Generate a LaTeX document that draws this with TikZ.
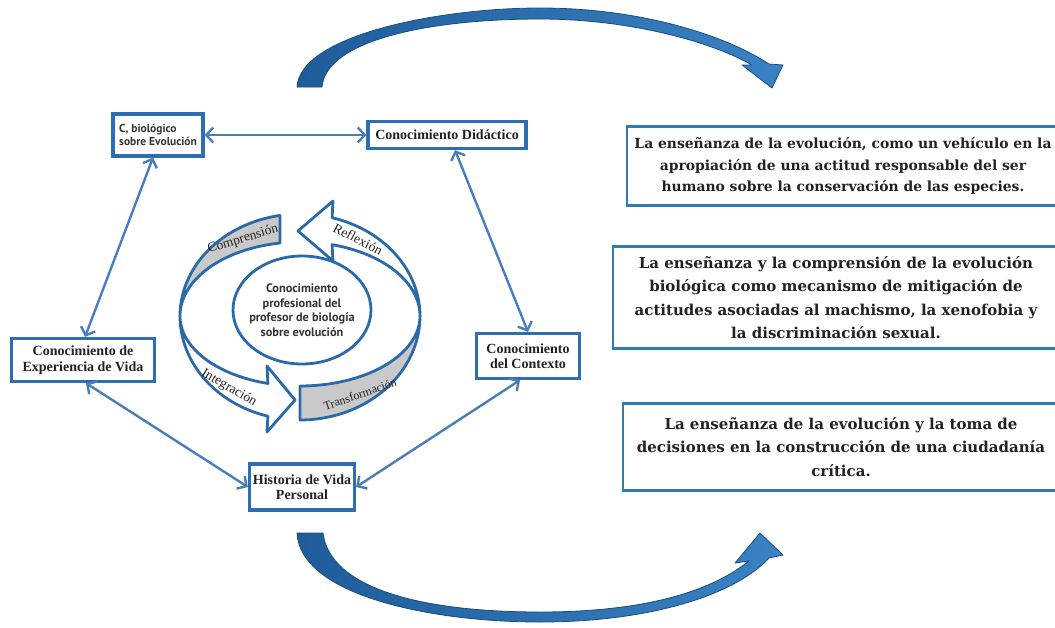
\documentclass[tikz,border=0pt]{standalone}
\usepackage{fontspec}
\setmainfont{Liberation Serif}
\newfontfamily\slabfont{DejaVu Serif}
\newfontfamily\cbfont{PT Sans}
\usetikzlibrary{arrows.meta,shapes.geometric}
\definecolor{arrowblue}{HTML}{4A7EBB}
\definecolor{boxblue}{HTML}{2E6DB4}
\definecolor{rbblue}{HTML}{2F7BB5}
\definecolor{bigdark}{HTML}{1F5C99}
\definecolor{biglight}{HTML}{3A82C4}
\definecolor{bigedge}{HTML}{1D4D7E}
\definecolor{cycblue}{HTML}{2A6AAA}
\definecolor{cycgray}{HTML}{C9C9C9}
\definecolor{txt}{HTML}{222222}
\begin{document}
\begin{tikzpicture}[x=1pt,y=-1pt,
  lbox/.style={draw=boxblue, line width=3.2pt, fill=white, inner sep=0pt, align=center,
    text=txt, font=\fontsize{14}{15.5}\selectfont\bfseries},
  rbox/.style={draw=rbblue, line width=2.8pt, fill=white, inner sep=0pt, align=center,
    text=txt, font=\slabfont\fontsize{15}{23.5}\selectfont\bfseries},
  dbl/.style={{Straight Barb[length=7pt,width=15pt,line width=2.4pt]}-{Straight Barb[length=7pt,width=15pt,line width=2.4pt]},
    line width=2.4pt, draw=arrowblue},
  cyc/.style={draw=cycblue, line width=2.8pt, line join=round},
  cyclabel/.style={text=txt, font=\fontsize{13.5}{14}\selectfont, inner sep=0pt},
  bigarrow/.style={left color=bigdark, right color=biglight, draw=bigedge, line width=0.8pt, line join=round}
]
\useasboundingbox (0,0) rectangle (1055,627);
\fill[white] (0,0) rectangle (1055,627);

% big curved arrows
\path[bigarrow] (322,87) -- (297,87)
  .. controls (300,35) and (440,8) .. (540,8)
  .. controls (640,8) and (725,35) .. (769,64)
  -- (783,65) -- (772,88) -- (742,65) -- (752,65)
  .. controls (712,42) and (630,19) .. (540,19)
  .. controls (430,19) and (326,40) .. (322,87) -- cycle;
\path[bigarrow] (323,533) -- (297,533)
  .. controls (300,595) and (430,622) .. (540,622)
  .. controls (650,622) and (735,595) .. (769,558)
  -- (783,555) -- (760,533) -- (735,563) -- (749,561)
  .. controls (700,600) and (620,612) .. (540,612)
  .. controls (420,612) and (330,588) .. (323,533) -- cycle;

% left boxes
\node[lbox, minimum width=90pt, minimum height=42pt, align=left,
  font=\cbfont\fontsize{11.5}{13}\selectfont\bfseries, text=black!80] (cbio) at (158,135)
  {C, biológico\\sobre Evolución};
\node[lbox, minimum width=158pt, minimum height=27pt] (cdid) at (447,135) {Conocimiento Didáctico};
\node[lbox, minimum width=143pt, minimum height=43pt] (cexp) at (83,360) {Conocimiento de\\Experiencia de Vida};
\node[lbox, minimum width=103pt, minimum height=45pt] (ccon) at (528,356) {Conocimiento\\del Contexto};
\node[lbox, minimum width=105pt, minimum height=46pt] (hist) at (302,487) {Historia de Vida\\Personal};

% connectors
\draw[dbl] (cbio.east) -- (cdid.west);
\draw[dbl] ([xshift=-5pt]cbio.south) -- ([xshift=2pt]cexp.north);
\draw[dbl] ([xshift=8pt]cdid.south) -- (ccon.north);
\draw[dbl] ([xshift=3pt]cexp.south) -- (hist.west);
\draw[dbl] ([xshift=-8pt]ccon.south) -- (hist.east);

% cycle
\filldraw[cyc, fill=cycgray]
  plot[domain=180:99.6,samples=40] ({300+120*cos(\x)},{316-102*sin(\x)})
  -- plot[domain=99.6:180,samples=40] ({300+120*cos(\x)},{316-74*sin(\x)}) -- cycle;
\filldraw[cyc, fill=white] (298,231) -- (333,201)
  -- plot[domain=74.5:0,samples=40] ({300+120*cos(\x)},{316-102*sin(\x)})
  -- plot[domain=0:74.5,samples=40] ({300+120*cos(\x)},{316-74*sin(\x)})
  -- (333,261) -- cycle;
\filldraw[cyc, fill=cycgray]
  plot[domain=0:90,samples=40] ({300+120*cos(\x)},{316+104*sin(\x)})
  -- plot[domain=90:0,samples=40] ({300+120*cos(\x)},{316+70*sin(\x)}) -- cycle;
\filldraw[cyc, fill=white] (295,400) -- (267,432)
  -- plot[domain=105.5:180,samples=40] ({300+120*cos(\x)},{316+104*sin(\x)})
  -- plot[domain=180:105.5,samples=40] ({300+120*cos(\x)},{316+70*sin(\x)})
  -- (267,366) -- cycle;

\node[cyclabel, rotate=17] (lcomp) at (243,239) {Comprensión};
\node[cyclabel, rotate=-27] (lrefl) at (358,239) {Reflexión};
\node[cyclabel, rotate=-30] (linte) at (229,388) {Integración};
\node[cyclabel, rotate=19, font=\fontsize{12}{13}\selectfont] (ltran) at (360,394) {Transformación};

\draw[cyc, fill=white] (302,310) ellipse [x radius=69pt, y radius=54pt];
\node[align=center, inner sep=0pt, text=black!80, font=\cbfont\fontsize{12.3}{14.5}\selectfont\bfseries]
  (core) at (302,310) {Conocimiento\\profesional del\\profesor de biología\\sobre evolución};

% right boxes
\node[rbox, minimum width=432pt, minimum height=79pt, font=\slabfont\fontsize{13.9}{21.5}\selectfont\bfseries] (r1) at (843,166)
  {La enseñanza de la evolución, como un vehículo en la\\apropiación de una actitud  responsable del ser\\humano sobre la conservación de las especies.};
\node[rbox, minimum width=446pt, minimum height=102pt] (r2) at (836,297.5)
  {La enseñanza y la comprensión de la evolución\\biológica como mecanismo de mitigación de\\actitudes asociadas al machismo, la xenofobia y\\la discriminación sexual.};
\node[rbox, minimum width=436pt, minimum height=87pt] (r3) at (841,447)
  {La enseñanza de la evolución y la toma de\\decisiones en la construcción de una ciudadanía\\crítica.};
\end{tikzpicture}
\end{document}
